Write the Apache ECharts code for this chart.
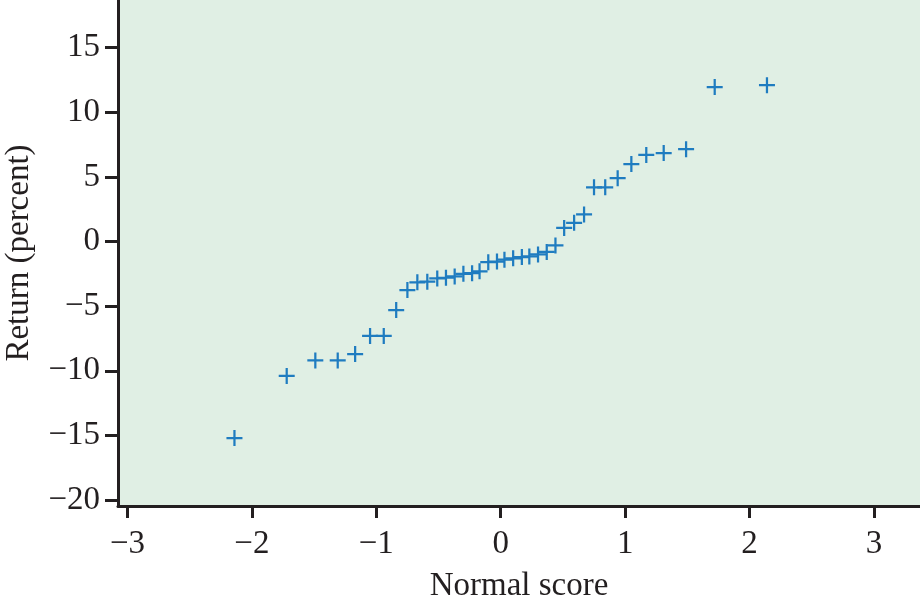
<!DOCTYPE html>
<html>
<head>
<meta charset="utf-8">
<script src="https://cdn.jsdelivr.net/npm/echarts@6/dist/echarts.min.js"></script>
<style>
html,body{margin:0;padding:0;background:#fff;}
#chart{width:920px;height:603px;}
</style>
</head>
<body>
<div id="chart"></div>
<script>
// Normal scores (x) and returns in percent (y)
const normalScores = [-2.14, -1.72, -1.49, -1.31, -1.17, -1.05, -0.94, -0.84, -0.75, -0.67,
  -0.59, -0.51, -0.44, -0.37, -0.30, -0.23, -0.17, -0.10, -0.03, 0.03,
  0.10, 0.17, 0.23, 0.30, 0.37, 0.44, 0.51, 0.59, 0.67, 0.75,
  0.84, 0.94, 1.05, 1.17, 1.31, 1.49, 1.72, 2.14];
const returns = [-15.2, -10.4, -9.2, -9.2, -8.7, -7.3, -7.3, -5.3, -3.75, -3.15,
  -3.1, -2.85, -2.8, -2.7, -2.5, -2.45, -2.3, -1.6, -1.55, -1.4,
  -1.3, -1.2, -1.15, -1.0, -0.8, -0.3, 1.05, 1.45, 2.1, 4.2,
  4.2, 4.9, 6.0, 6.7, 6.85, 7.15, 11.95, 12.1];
const xTicks = [-3, -2, -1, 0, 1, 2, 3];
const yTicks = [-20, -15, -10, -5, 0, 5, 10, 15];

const points = normalScores.map((x, i) => [x, returns[i]]);
const fmt = v => (v < 0 ? '\u2212' + Math.abs(v) : String(v));
const font = '"Liberation Serif", "Times New Roman", serif';
const ink = '#231f20';

const chart = echarts.init(document.getElementById('chart'), null, {renderer: 'canvas'});
chart.setOption({
  animation: false,
  backgroundColor: '#ffffff',
  grid: {left: 118, right: 0, top: 0, bottom: 97, show: true,
    containLabel: false, outerBoundsMode: 'none',
    backgroundColor: '#e0efe4', borderWidth: 0},
  xAxis: {
    type: 'value', min: -3.076, max: 3.37,
    name: 'Normal score', nameLocation: 'middle', nameGap: 64,
    nameTextStyle: {fontFamily: font, fontSize: 33, color: ink},
    axisLine: {show: true, onZero: false, lineStyle: {color: ink, width: 3}},
    axisTick: {show: true, length: 12, lineStyle: {color: ink, width: 3}, customValues: xTicks},
    axisLabel: {fontFamily: font, fontSize: 33, color: ink, margin: 22, formatter: fmt, customValues: xTicks},
    splitLine: {show: false}
  },
  yAxis: {
    type: 'value', min: -20.46, max: 18.69,
    name: 'Return (percent)', nameLocation: 'middle', nameGap: 82,
    nameTextStyle: {fontFamily: font, fontSize: 33, color: ink},
    axisLine: {show: true, onZero: false, lineStyle: {color: ink, width: 3}},
    axisTick: {show: true, length: 13, lineStyle: {color: ink, width: 3}, customValues: yTicks},
    axisLabel: {fontFamily: font, fontSize: 33, color: ink, margin: 18, formatter: fmt, customValues: yTicks},
    splitLine: {show: false}
  },
  series: [{
    type: 'scatter',
    data: points,
    symbol: 'path://M0,4.3h10v1.4h-10z M4.3,0h1.4v10h-1.4z',
    symbolSize: 16,
    itemStyle: {color: '#1f7cc0', opacity: 1}
  }]
});
</script>
</body>
</html>
